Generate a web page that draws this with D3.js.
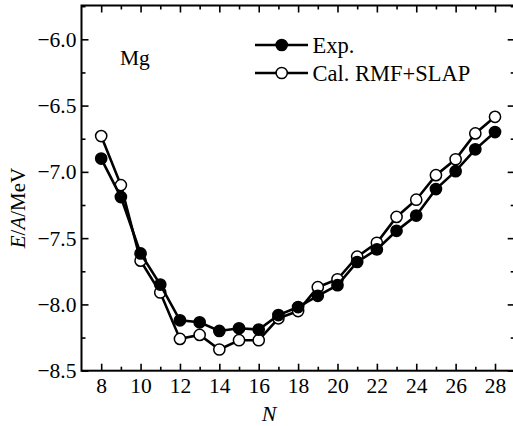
<!DOCTYPE html>
<html>
<head>
<meta charset="utf-8">
<script src="https://cdn.jsdelivr.net/npm/d3@7"></script>
<style>
  body { margin: 0; background: #fff; }
  svg { display: block; font-family: "Liberation Serif", "Times New Roman", "DejaVu Serif", serif; }
</style>
</head>
<body>
<div class="canvas"></div>
<script>
// neutron number N and binding energy per nucleon (MeV) for Mg isotopes
const neutrons = [8, 9, 10, 11, 12, 13, 14, 15, 16, 17, 18, 19, 20, 21, 22, 23, 24, 25, 26, 27, 28]
const expValues = [-6.90, -7.19, -7.615, -7.85, -8.12, -8.135, -8.20, -8.18, -8.19, -8.08, -8.02, -7.935, -7.855, -7.68, -7.585, -7.445, -7.33, -7.13, -6.995, -6.83, -6.70]
const calValues = [-6.73, -7.10, -7.67, -7.91, -8.26, -8.23, -8.34, -8.27, -8.27, -8.105, -8.05, -7.87, -7.81, -7.64, -7.535, -7.34, -7.21, -7.025, -6.905, -6.71, -6.585]
const xTicks = [8, 10, 12, 14, 16, 18, 20, 22, 24, 26, 28]
const yTicks = [-8.5, -8.0, -7.5, -7.0, -6.5, -6.0]
const legendLabels = ['Exp.', 'Cal. RMF+SLAP']

const W = 513, H = 426
const svg = d3.select('.canvas').append('svg')
    .attr('width', W)
    .attr('height', H)

// plot frame
const pLeft = 81.5, pRight = 514.7, pTop = 5.5, pBottom = 370.7
const x = d3.scaleLinear().domain([7, 29]).range([pLeft, pRight])
const y = d3.scaleLinear().domain([-8.5, -5.745]).range([pBottom, pTop])

const fmt = d => d3.format('.1f')(d).replace('-', '\u2212')
const xMinor = d3.range(9, 29, 2)
const yMinor = [-8.25, -7.75, -7.25, -6.75, -6.25, -5.75]

// bottom axis: major labelled ticks + minor at odd N, all pointing inward
const gx = svg.append('g').attr('transform', `translate(0,${pBottom})`)
    .call(d3.axisBottom(x).tickValues(xTicks).tickSize(-7).tickPadding(7).tickFormat(d3.format('d')))
gx.append('g').call(d3.axisBottom(x).tickValues(xMinor).tickSize(-4).tickFormat(''))

const gy = svg.append('g').attr('transform', `translate(${pLeft},0)`)
    .call(d3.axisLeft(y).tickValues(yTicks).tickSize(-7).tickPadding(5).tickFormat(fmt))
gy.append('g').call(d3.axisLeft(y).tickValues(yMinor).tickSize(-4).tickFormat(''))

// top and right: ticks only
const gt = svg.append('g').attr('transform', `translate(0,${pTop})`)
gt.call(d3.axisTop(x).tickValues(xTicks).tickSize(-7).tickFormat(''))
gt.append('g').call(d3.axisTop(x).tickValues(xMinor).tickSize(-4).tickFormat(''))
const gr = svg.append('g').attr('transform', `translate(${pRight},0)`)
gr.call(d3.axisRight(y).tickValues(yTicks).tickSize(-7).tickFormat(''))
gr.append('g').call(d3.axisRight(y).tickValues(yMinor).tickSize(-4).tickFormat(''))

svg.selectAll('.domain').remove()
svg.selectAll('.tick line').attr('stroke', '#000').attr('stroke-width', 1.6)
svg.selectAll('.tick text').attr('font-size', 21.5).attr('fill', '#000')
svg.selectAll('g').attr('font-family', null)

svg.append('rect')
    .attr('x', pLeft).attr('y', pTop)
    .attr('width', pRight - pLeft).attr('height', pBottom - pTop)
    .attr('fill', 'none').attr('stroke', '#000').attr('stroke-width', 2)

// series
const line = d3.line().x(d => x(d[0])).y(d => y(d[1]))
const series = [
  { values: calValues, fill: '#fff' },
  { values: expValues, fill: '#000' }
]
series.forEach(s => {
  const pts = neutrons.map((n, i) => [n, s.values[i]])
  svg.append('path')
      .datum(pts)
      .attr('d', line)
      .attr('fill', 'none')
      .attr('stroke', '#000')
      .attr('stroke-width', 2.6)
  svg.append('g').selectAll('circle')
      .data(pts)
      .join('circle')
      .attr('cx', d => x(d[0]))
      .attr('cy', d => y(d[1]))
      .attr('r', 5.6)
      .attr('fill', s.fill)
      .attr('stroke', '#000')
      .attr('stroke-width', 1.5)
})

// legend
const legend = svg.append('g')
const legendFills = ['#000', '#fff']
legendLabels.forEach((label, i) => {
  const ly = 45 + i * 28
  legend.append('line')
      .attr('x1', 255).attr('x2', 308).attr('y1', ly).attr('y2', ly)
      .attr('stroke', '#000').attr('stroke-width', 2.6)
  legend.append('circle')
      .attr('cx', 281.7).attr('cy', ly).attr('r', 5.6)
      .attr('fill', legendFills[i]).attr('stroke', '#000').attr('stroke-width', 1.5)
  legend.append('text')
      .attr('x', 312.5).attr('y', ly + 8)
      .attr('font-size', 22.5)
      .text(label)
})

svg.append('text')
    .attr('x', 120).attr('y', 65)
    .attr('font-size', 21.5)
    .text('Mg')

// axis titles
svg.append('text')
    .attr('x', 269).attr('y', 421)
    .attr('text-anchor', 'middle')
    .attr('font-size', 22)
    .style('font-style', 'italic')
    .text('N')

const yl = svg.append('text')
    .attr('transform', 'translate(25,208) rotate(-90)')
    .attr('text-anchor', 'middle')
    .attr('font-size', 21)
yl.append('tspan').style('font-style', 'italic').text('E')
yl.append('tspan').text('/')
yl.append('tspan').style('font-style', 'italic').text('A')
yl.append('tspan').text('/MeV')
</script>
</body>
</html>
